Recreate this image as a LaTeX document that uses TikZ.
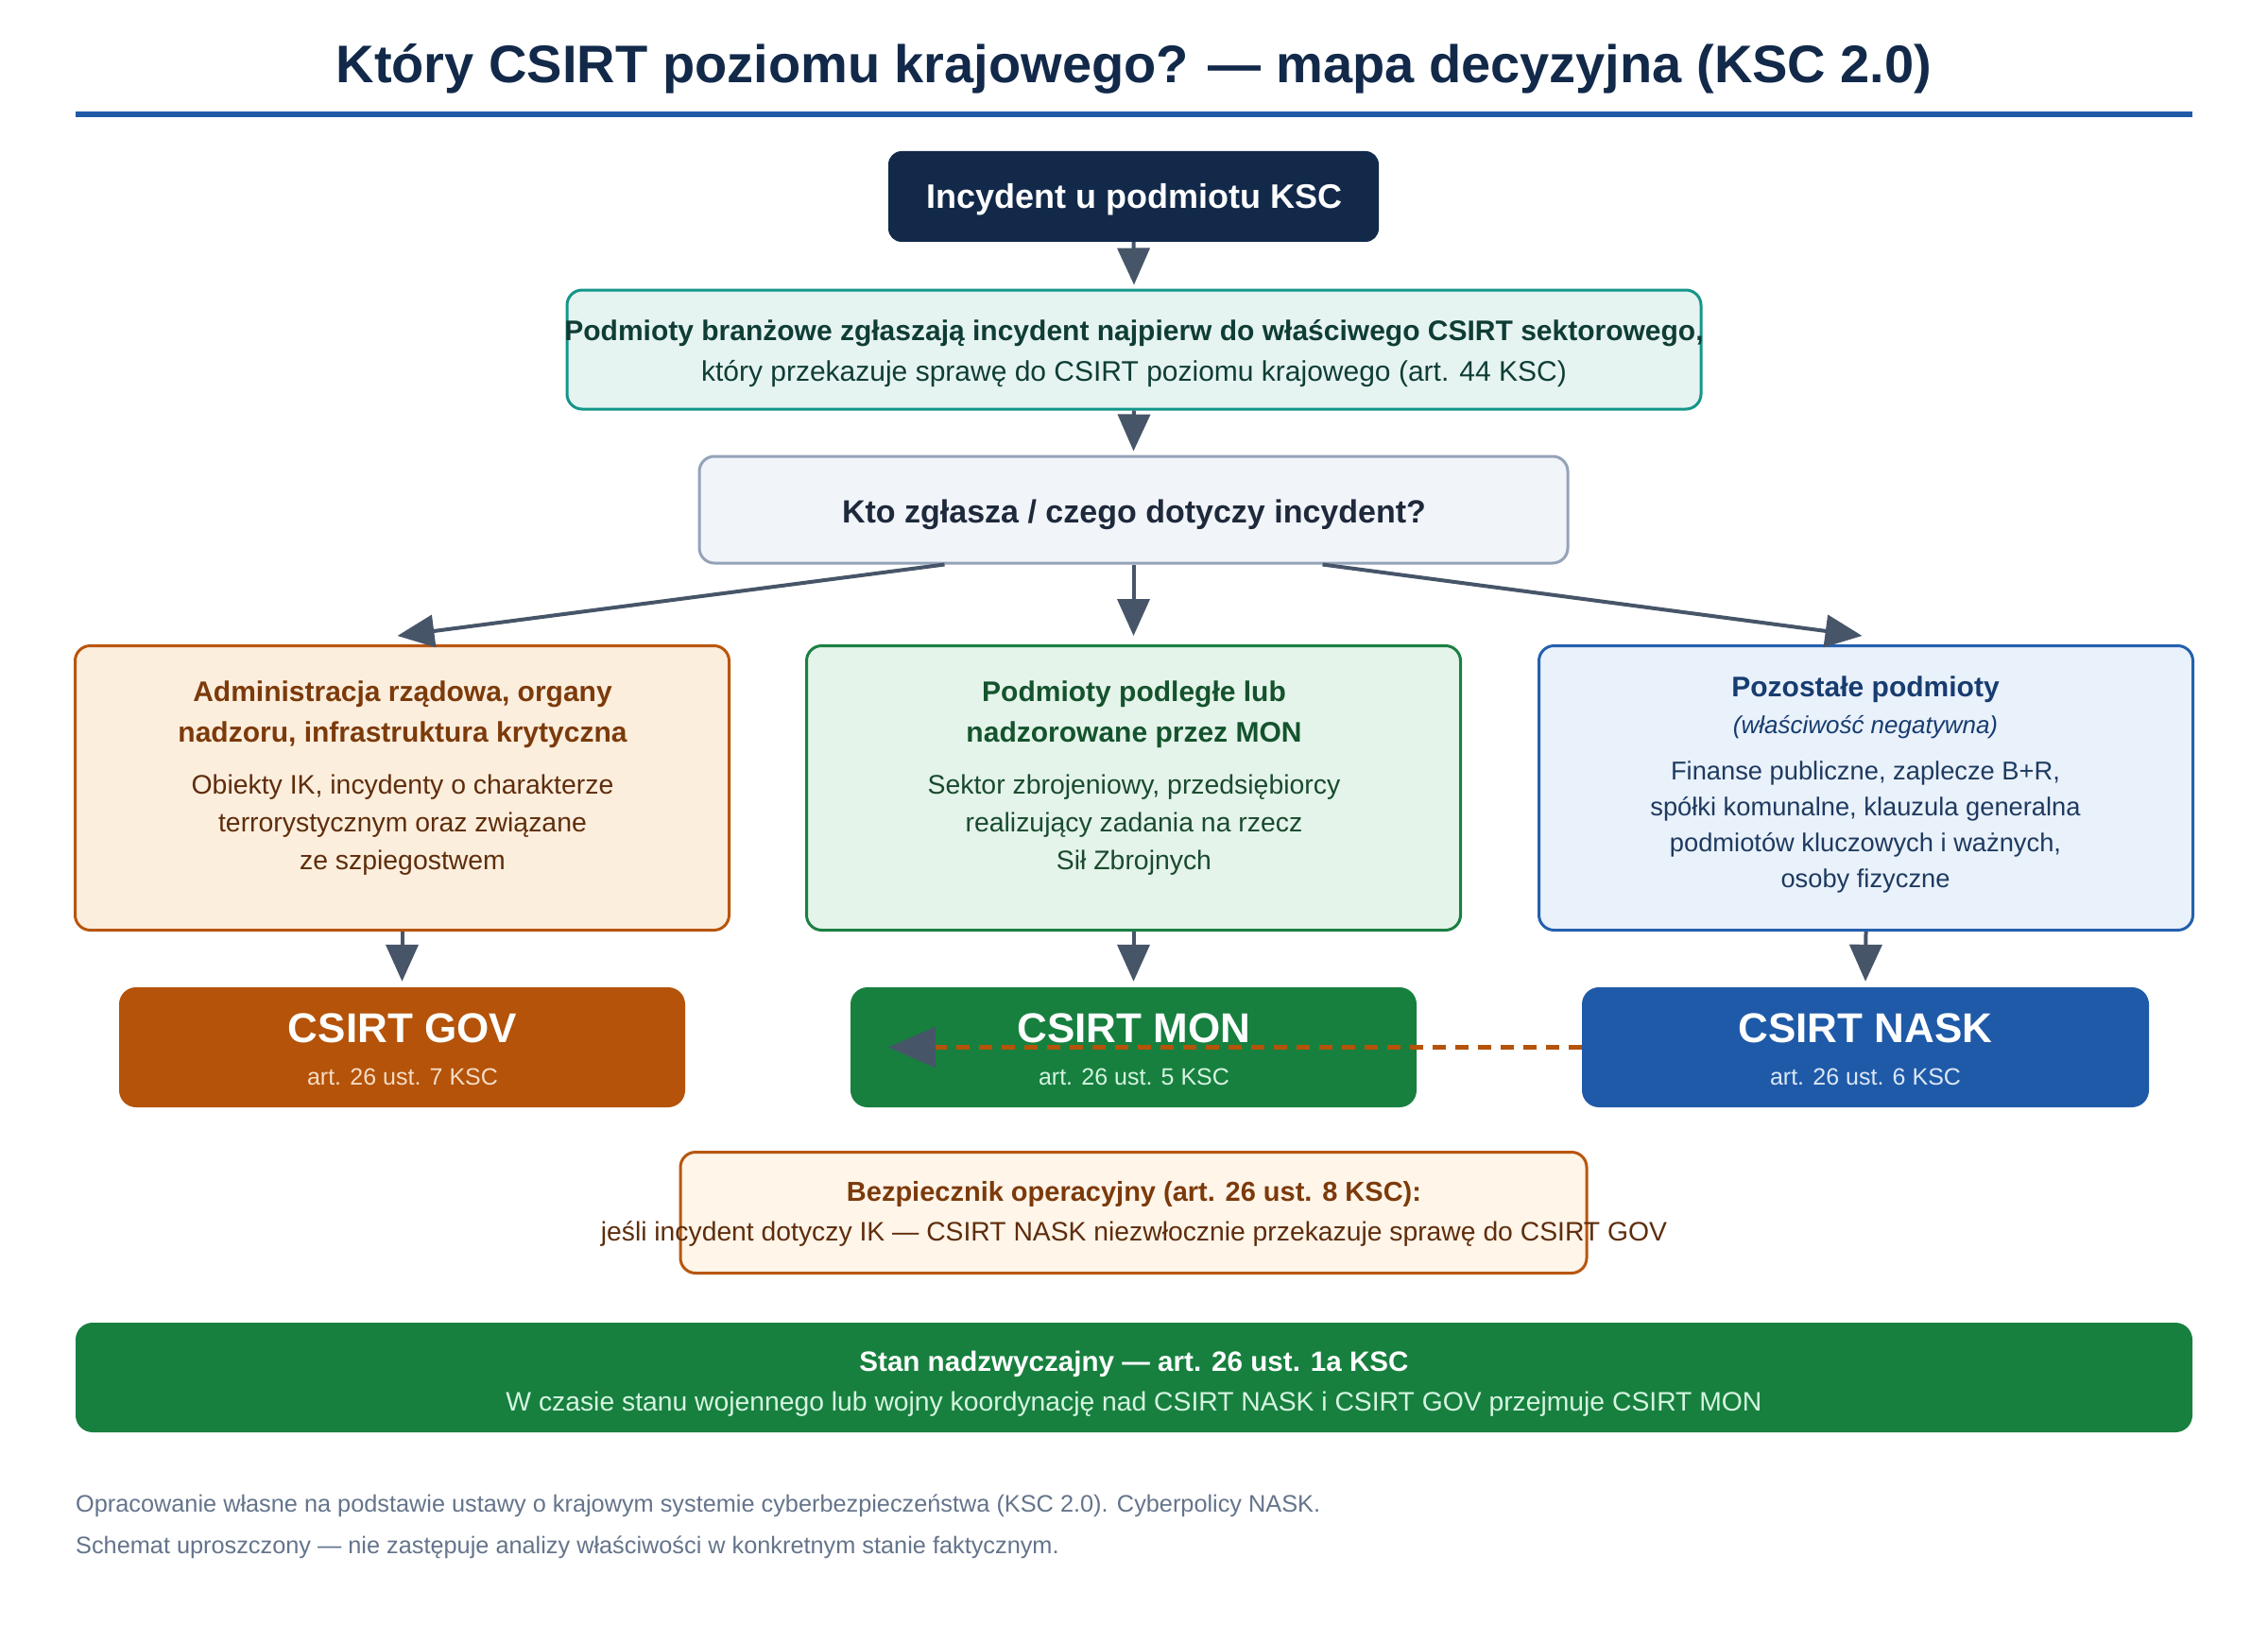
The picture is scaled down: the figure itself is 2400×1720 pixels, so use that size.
\documentclass[tikz,border=0pt]{standalone}
\usepackage{fontspec}
\setmainfont{Liberation Sans}
\usetikzlibrary{arrows.meta,calc}
\definecolor{navy}{HTML}{12294A}
\definecolor{rule}{HTML}{1F5AA6}
\definecolor{slate}{HTML}{475569}
\definecolor{tealF}{HTML}{E6F4F1}
\definecolor{tealD}{HTML}{14968A}
\definecolor{tealT}{HTML}{0F3D36}
\definecolor{grayF}{HTML}{F1F4F9}
\definecolor{grayD}{HTML}{94A3B8}
\definecolor{grayT}{HTML}{1E293B}
\definecolor{orF}{HTML}{FCEEDD}
\definecolor{orD}{HTML}{B8560E}
\definecolor{orT}{HTML}{7C3A0B}
\definecolor{orB}{HTML}{5E2D0C}
\definecolor{orS}{HTML}{B45309}
\definecolor{orSub}{HTML}{F6DCC6}
\definecolor{grF}{HTML}{E4F4EA}
\definecolor{grD}{HTML}{1B8042}
\definecolor{grT}{HTML}{14532D}
\definecolor{grB}{HTML}{1A4A2E}
\definecolor{grS}{HTML}{17803F}
\definecolor{grSub}{HTML}{D6F5E1}
\definecolor{blF}{HTML}{E9F1FB}
\definecolor{blD}{HTML}{2560AE}
\definecolor{blT}{HTML}{173C70}
\definecolor{blB}{HTML}{1E3A5F}
\definecolor{blS}{HTML}{1F5AA8}
\definecolor{blSub}{HTML}{DCE8F8}
\definecolor{bezF}{HTML}{FFF5E9}
\definecolor{foot}{HTML}{64748B}
\newcommand{\fs}[2]{\fontsize{#1pt}{#2pt}\selectfont}
\begin{document}
\begin{tikzpicture}[x=1pt,y={(0pt,-1pt)},
  box/.style={rectangle, inner sep=0pt, line width=3pt, rounded corners=16pt},
  solidbox/.style={rectangle, inner sep=0pt, rounded corners=18pt},
  txt/.style={anchor=base, inner sep=0pt},
  conn/.style={draw=slate, line width=4pt, -{Triangle[length=39pt,width=34pt]}},
  dashconn/.style={draw=orS, line width=5pt, dash pattern=on 14pt off 10pt, -{Triangle[length=50pt,width=42pt,color=slate]}}]
\useasboundingbox (0,0) rectangle (2400,1720);
\fill[white] (0,0) rectangle (2400,1720);
% title
\node[txt, text=navy, font=\fs{56}{64}\bfseries] (title) at (1200,88) {Który CSIRT poziomu krajowego? — mapa decyzyjna (KSC 2.0)};
\draw[rule, line width=6pt] (80,121) -- (2320,121);
% start
\node[solidbox, rounded corners=14pt, fill=navy, minimum width=519pt, minimum height=96pt] (start) at (1199.5,208) {};
\node[txt, text=white, font=\fs{36}{42}\bfseries] (startT) at (1200,221) {Incydent u podmiotu KSC};
% sector
\node[box, fill=tealF, draw=tealD, minimum width=1200pt, minimum height=126pt] (sector) at (1200,370) {};
\node[txt, text=tealT, font=\fs{30}{36}\bfseries] (sectorA) at (1200,360) {Podmioty branżowe zgłaszają incydent najpierw do właściwego CSIRT sektorowego,};
\node[txt, text=tealT, font=\fs{30}{36}] (sectorB) at (1200,403) {który przekazuje sprawę do CSIRT poziomu krajowego (art. 44 KSC)};
% question
\node[box, fill=grayF, draw=grayD, minimum width=919pt, minimum height=113pt] (q) at (1199.5,539.5) {};
\node[txt, text=grayT, font=\fs{34}{40}\bfseries] (qT) at (1200,553) {Kto zgłasza / czego dotyczy incydent?};
% categories
\node[box, fill=orF, draw=orD, minimum width=692pt, minimum height=301pt] (catL) at (425.5,834) {};
\node[box, fill=grF, draw=grD, minimum width=692pt, minimum height=301pt] (catM) at (1199.5,834) {};
\node[box, fill=blF, draw=blD, minimum width=692pt, minimum height=301pt] (catR) at (1974.5,834) {};
% left texts
\node[txt, text=orT, font=\fs{30}{36}\bfseries] (lA) at (426,742) {Administracja rządowa, organy};
\node[txt, text=orT, font=\fs{30}{36}\bfseries] (lB) at (426,785) {nadzoru, infrastruktura krytyczna};
\node[txt, text=orB, font=\fs{28.4}{34}] (lC) at (426,840) {Obiekty IK, incydenty o charakterze};
\node[txt, text=orB, font=\fs{28.4}{34}] (lD) at (426,880) {terrorystycznym oraz związane};
\node[txt, text=orB, font=\fs{28.4}{34}] (lE) at (426,920) {ze szpiegostwem};
% middle texts
\node[txt, text=grT, font=\fs{30}{36}\bfseries] (mA) at (1200,742) {Podmioty podległe lub};
\node[txt, text=grT, font=\fs{30}{36}\bfseries] (mB) at (1200,785) {nadzorowane przez MON};
\node[txt, text=grB, font=\fs{28.4}{34}] (mC) at (1200,840) {Sektor zbrojeniowy, przedsiębiorcy};
\node[txt, text=grB, font=\fs{28.4}{34}] (mD) at (1200,880) {realizujący zadania na rzecz};
\node[txt, text=grB, font=\fs{28.4}{34}] (mE) at (1200,920) {Sił Zbrojnych};
% right texts
\node[txt, text=blT, font=\fs{30}{36}\bfseries] (rA) at (1974,737) {Pozostałe podmioty};
\node[txt, text=blT, font=\fs{26}{32}\itshape] (rB) at (1974,776) {(właściwość negatywna)};
\node[txt, text=blB, font=\fs{27.3}{33}] (rC) at (1974,825) {Finanse publiczne, zaplecze B+R,};
\node[txt, text=blB, font=\fs{27.3}{33}] (rD) at (1974,863) {spółki komunalne, klauzula generalna};
\node[txt, text=blB, font=\fs{27.3}{33}] (rE) at (1974,901) {podmiotów kluczowych i ważnych,};
\node[txt, text=blB, font=\fs{27.3}{33}] (rF) at (1974,939) {osoby fizyczne};
% CSIRT boxes
\node[solidbox, fill=orS, minimum width=599pt, minimum height=127pt] (gov) at (425.5,1108.5) {};
\node[solidbox, fill=grS, minimum width=599pt, minimum height=127pt] (mon) at (1199.5,1108.5) {};
\node[solidbox, fill=blS, minimum width=600pt, minimum height=127pt] (nask) at (1974,1108.5) {};
\node[txt, text=white, font=\fs{44}{50}\bfseries] (govT) at (426,1103) {CSIRT GOV};
\node[txt, text=orSub, font=\fs{25}{30}] (govS) at (426,1148) {art. 26 ust. 7 KSC};
\node[txt, text=white, font=\fs{44}{50}\bfseries] (monT) at (1200,1103) {CSIRT MON};
\node[txt, text=grSub, font=\fs{25}{30}] (monS) at (1200,1148) {art. 26 ust. 5 KSC};
\node[txt, text=white, font=\fs{44}{50}\bfseries] (naskT) at (1974,1103) {CSIRT NASK};
\node[txt, text=blSub, font=\fs{25}{30}] (naskS) at (1974,1148) {art. 26 ust. 6 KSC};
% connectors
\draw[conn] (start.south) -- ($(sector.north)+(0,-4)$);
\draw[conn] (sector.south) -- ($(q.north)+(0,-4)$);
\draw[conn] ($(q.south)+(-200,0)$) -- ($(catL.north)+(-5,-9)$);
\draw[conn] (q.south) -- ($(catM.north)+(0,-9)$);
\draw[conn] ($(q.south)+(200,0)$) -- ($(catR.north)+(-4,-9)$);
\draw[conn] (catL.south) -- ($(gov.north)+(0,-6)$);
\draw[conn] (catM.south) -- ($(mon.north)+(0,-6)$);
\draw[conn] (catR.south) -- ($(nask.north)+(0,-6)$);
\draw[dashconn] (nask.west) -- ($(mon.west)+(40,0)$);
% safeguard
\node[box, fill=bezF, draw=orD, minimum width=959pt, minimum height=128pt] (bez) at (1199.5,1283.5) {};
\node[txt, text=orT, font=\fs{29}{34}\bfseries] (bezA) at (1200,1271) {Bezpiecznik operacyjny (art. 26 ust. 8 KSC):};
\node[txt, text=orB, font=\fs{28.3}{34}] (bezB) at (1200,1313) {jeśli incydent dotyczy IK — CSIRT NASK niezwłocznie przekazuje sprawę do CSIRT GOV};
% banner
\node[solidbox, fill=grS, minimum width=2240pt, minimum height=116pt] (ban) at (1200,1458) {};
\node[txt, text=white, font=\fs{29.6}{34}\bfseries] (banA) at (1200,1451) {Stan nadzwyczajny — art. 26 ust. 1a KSC};
\node[txt, text=grSub, font=\fs{28.3}{34}] (banB) at (1200,1493) {W czasie stanu wojennego lub wojny koordynację nad CSIRT NASK i CSIRT GOV przejmuje CSIRT MON};
% footer
\node[txt, anchor=base west, text=foot, font=\fs{25.3}{30}] (f1) at (80,1600) {Opracowanie własne na podstawie ustawy o krajowym systemie cyberbezpieczeństwa (KSC 2.0). Cyberpolicy NASK.};
\node[txt, anchor=base west, text=foot, font=\fs{25.3}{30}] (f2) at (80,1644) {Schemat uproszczony — nie zastępuje analizy właściwości w konkretnym stanie faktycznym.};
\end{tikzpicture}
\end{document}
